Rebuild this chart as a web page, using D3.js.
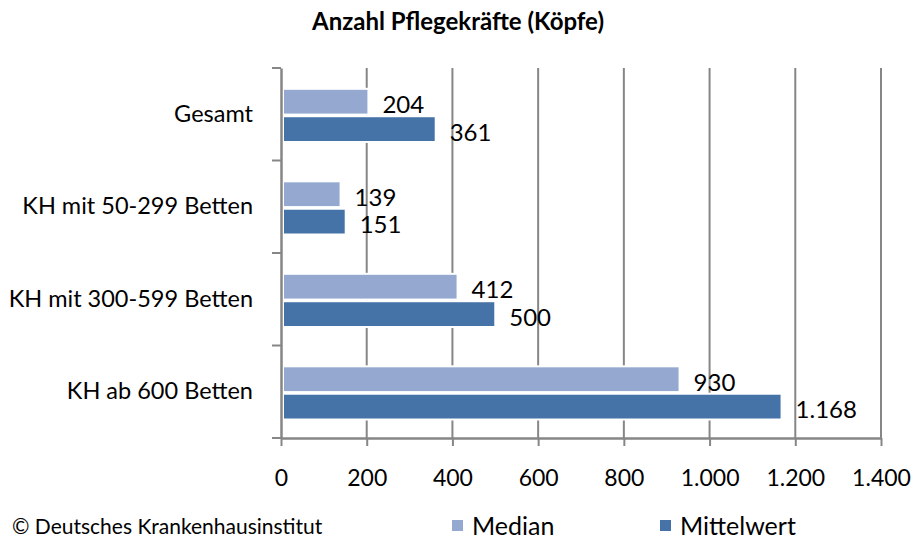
<!DOCTYPE html>
<html>
<head>
<meta charset="utf-8">
<script src="https://cdn.jsdelivr.net/npm/d3@7"></script>
<style>
  body { margin: 0; background: #fff; }
  text { font-family: Lato, "Open Sans", sans-serif; fill: #000; }
</style>
</head>
<body>
<div id="chart"></div>
<script>
// data
var categories = ["Gesamt", "KH mit 50-299 Betten", "KH mit 300-599 Betten", "KH ab 600 Betten"];
var seriesNames = ["Median", "Mittelwert"];
var median = [204, 139, 412, 930];
var mittelwert = [361, 151, 500, 1168];
var xTicks = [0, 200, 400, 600, 800, 1000, 1200, 1400];

var colors = { "Median": "#95a9d0", "Mittelwert": "#4573a8" };

var width = 913, height = 540;
var margin = {top: 68, left: 281, right: 32, bottom: 102};
var innerW = width - margin.left - margin.right,
    innerH = height - margin.top - margin.bottom;

var fmt = function(v) { return d3.format(",")(v).replace(/,/g, "."); };

var svg = d3.select("#chart")
  .append("svg")
    .attr("width", width)
    .attr("height", height);

// title
svg.append("text")
  .attr("x", 458)
  .attr("y", 30)
  .attr("text-anchor", "middle")
  .style("font-weight", "bold")
  .style("font-size", "24px")
  .text("Anzahl Pflegekräfte (Köpfe)");

var g = svg.append("g")
  .attr("transform", "translate(" + margin.left + "," + margin.top + ")");

var x = d3.scaleLinear().domain([0, 1400]).range([0, 600]);
var y = d3.scaleBand().domain(categories).range([0, innerH]);
var ySub = d3.scaleBand().domain(seriesNames)
  .range([y.bandwidth() * 0.225, y.bandwidth() * 0.8]).paddingInner(0.06);

// gridlines
g.append("g")
  .selectAll("line")
  .data(xTicks.slice(1))
  .enter()
  .append("line")
    .attr("x1", function(d) { return x(d); })
    .attr("x2", function(d) { return x(d); })
    .attr("y1", 0)
    .attr("y2", innerH)
    .attr("stroke", "#868686")
    .attr("stroke-width", 2);

// bars
var rows = categories.map(function(c, i) {
  return { cat: c, values: [
    { name: "Median", value: median[i] },
    { name: "Mittelwert", value: mittelwert[i] }
  ]};
});

var groups = g.selectAll(".cat")
  .data(rows)
  .enter()
  .append("g")
    .attr("transform", function(d) { return "translate(0," + y(d.cat) + ")"; });

groups.selectAll("rect")
  .data(function(d) { return d.values; })
  .enter()
  .append("rect")
    .attr("x", 2)
    .attr("y", function(d) { return ySub(d.name); })
    .attr("width", function(d) { return x(d.value) - 2; })
    .attr("height", ySub.bandwidth())
    .attr("fill", function(d) { return colors[d.name]; })
    .attr("stroke", "#fff")
    .attr("stroke-width", 2);

groups.selectAll(".lbl")
  .data(function(d) { return d.values; })
  .enter()
  .append("text")
    .attr("x", function(d) { return x(d.value) + 14; })
    .attr("y", function(d) { return ySub(d.name) + ySub.bandwidth() / 2 + 3; })
    .attr("dy", "0.35em")
    .style("font-size", "24px")
    .text(function(d) { return fmt(d.value); });

// y axis
var yAxis = g.append("g")
  .call(d3.axisLeft(y).tickSize(0).tickPadding(28).tickSizeOuter(0));
yAxis.select(".domain").attr("stroke", "#868686").attr("stroke-width", 2.5);
yAxis.selectAll("text").style("font-size", "23.5px").attr("fill", "#000");
yAxis.selectAll(".sep")
  .data(d3.range(categories.length + 1))
  .enter()
  .append("line")
    .attr("x1", -9).attr("x2", 0)
    .attr("y1", function(d) { return d * y.step(); })
    .attr("y2", function(d) { return d * y.step(); })
    .attr("stroke", "#868686")
    .attr("stroke-width", 2);

// x axis
var xAxis = g.append("g")
  .attr("transform", "translate(0," + innerH + ")")
  .call(d3.axisBottom(x).tickValues(xTicks).tickFormat(fmt).tickSize(8).tickPadding(24).tickSizeOuter(0));
xAxis.select(".domain").attr("stroke", "#868686").attr("stroke-width", 2.5);
xAxis.selectAll(".tick line").attr("stroke", "#868686").attr("stroke-width", 2);
xAxis.selectAll("text").style("font-size", "23px").attr("fill", "#000");

// footer
svg.append("text")
  .attr("x", 12)
  .attr("y", 534)
  .style("font-size", "21px")
  .text("© Deutsches Krankenhausinstitut");

var legend = svg.append("g");
var legendX = [452, 660];
seriesNames.forEach(function(s, i) {
  legend.append("rect")
    .attr("x", legendX[i])
    .attr("y", 520)
    .attr("width", 11)
    .attr("height", 11)
    .attr("fill", colors[s]);
  legend.append("text")
    .attr("x", legendX[i] + 20)
    .attr("y", 535)
    .style("font-size", "25px")
    .text(s);
});
</script>
</body>
</html>
